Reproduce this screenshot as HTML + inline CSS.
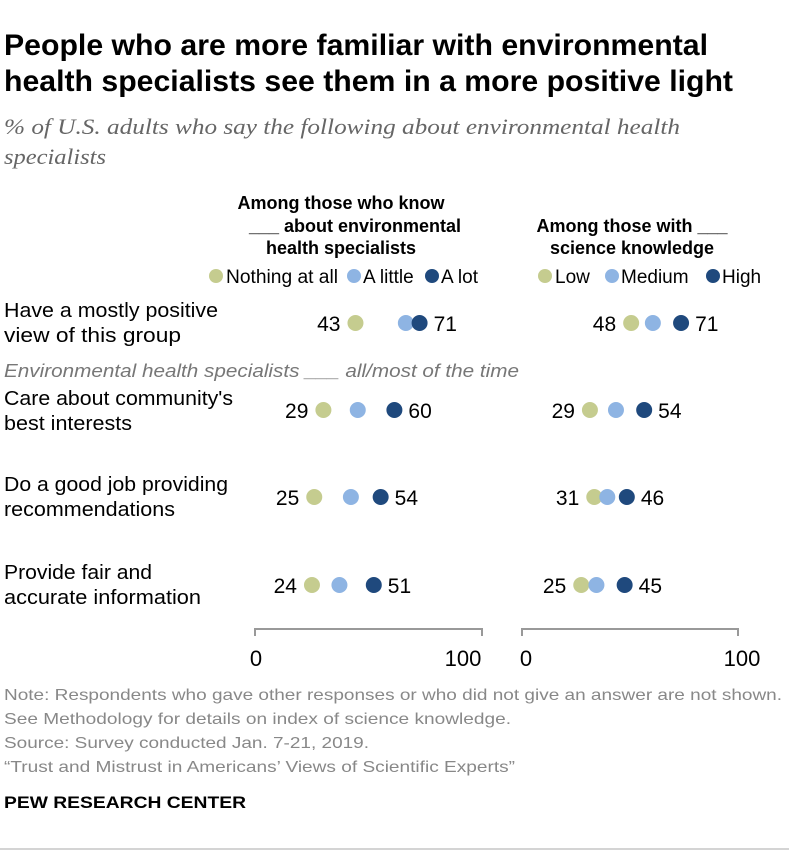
<!DOCTYPE html>
<html><head><meta charset="utf-8"><style>
body{margin:0;background:#fff;width:789px;height:853px;overflow:hidden;font-family:"Liberation Sans",sans-serif;}
</style></head><body>
<svg id="c" width="789" height="853" xmlns="http://www.w3.org/2000/svg" font-family="Liberation Sans, sans-serif">
<text x="4" y="55" font-size="30" font-weight="bold" fill="#000" textLength="704" lengthAdjust="spacingAndGlyphs">People who are more familiar with environmental</text>
<text x="4" y="91" font-size="30" font-weight="bold" fill="#000" textLength="729" lengthAdjust="spacingAndGlyphs">health specialists see them in a more positive light</text>
<text x="4" y="134" font-size="22" font-style="italic" fill="#666" font-family="Liberation Serif, serif" textLength="676" lengthAdjust="spacingAndGlyphs">% of U.S. adults who say the following about environmental health</text>
<text x="4" y="164" font-size="22" font-style="italic" fill="#666" font-family="Liberation Serif, serif" textLength="102" lengthAdjust="spacingAndGlyphs">specialists</text>
<g font-size="18" font-weight="bold" text-anchor="middle">
<text x="341" y="209">Among those who know</text>
<text x="355" y="232">___ about environmental</text>
<text x="341" y="254">health specialists</text>
<text x="632" y="232">Among those with ___</text>
<text x="632" y="254">science knowledge</text>
</g>
<g font-size="19">
<circle cx="216" cy="276" r="7" fill="#c5cc8f"/><text x="226" y="283" textLength="112" lengthAdjust="spacingAndGlyphs">Nothing at all</text>
<circle cx="354" cy="276" r="7" fill="#8eb4e3"/><text x="363" y="283">A little</text>
<circle cx="432" cy="276" r="7" fill="#1f497d"/><text x="441" y="283">A lot</text>
<circle cx="545" cy="276" r="7" fill="#c5cc8f"/><text x="555" y="283">Low</text>
<circle cx="612" cy="276" r="7" fill="#8eb4e3"/><text x="621" y="283">Medium</text>
<circle cx="713" cy="276" r="7" fill="#1f497d"/><text x="722" y="283">High</text>
</g>
<g font-size="20" fill="#000">
<text x="4" y="317" textLength="214" lengthAdjust="spacingAndGlyphs">Have a mostly positive</text><text x="4" y="342" textLength="177" lengthAdjust="spacingAndGlyphs">view of this group</text>
<text x="4" y="405" textLength="229" lengthAdjust="spacingAndGlyphs">Care about community's</text><text x="4" y="430" textLength="128" lengthAdjust="spacingAndGlyphs">best interests</text>
<text x="4" y="491" textLength="224" lengthAdjust="spacingAndGlyphs">Do a good job providing</text><text x="4" y="516" textLength="171" lengthAdjust="spacingAndGlyphs">recommendations</text>
<text x="4" y="579" textLength="148" lengthAdjust="spacingAndGlyphs">Provide fair and</text><text x="4" y="604" textLength="197" lengthAdjust="spacingAndGlyphs">accurate information</text>
</g>
<text x="4" y="377" font-size="18" font-style="italic" fill="#777" textLength="515" lengthAdjust="spacingAndGlyphs">Environmental health specialists ___ all/most of the time</text>
<g id="marks"></g>
<g stroke="#999" stroke-width="2" fill="none">
<path d="M255,636V629H482V636"/><path d="M522,636V629H738V636"/>
</g>
<g font-size="22" text-anchor="middle">
<text x="256" y="666">0</text><text x="463" y="666">100</text>
<text x="526" y="666">0</text><text x="742" y="666">100</text>
</g>
<g font-size="16" fill="#888">
<text x="4" y="700" textLength="778" lengthAdjust="spacingAndGlyphs">Note: Respondents who gave other responses or who did not give an answer are not shown.</text>
<text x="4" y="724" textLength="507" lengthAdjust="spacingAndGlyphs">See Methodology for details on index of science knowledge.</text>
<text x="4" y="748" textLength="365" lengthAdjust="spacingAndGlyphs">Source: Survey conducted Jan. 7-21, 2019.</text>
<text x="4" y="772" textLength="511" lengthAdjust="spacingAndGlyphs">“Trust and Mistrust in Americans’ Views of Scientific Experts”</text>
</g>
<text x="4" y="808" font-size="17" font-weight="bold" fill="#000" textLength="242" lengthAdjust="spacingAndGlyphs">PEW RESEARCH CENTER</text>
<line x1="0" y1="849" x2="789" y2="849" stroke="#aaa" stroke-width="1"/>
</svg>
<script>
const rows=["positive-view","community-interests","good-recommendations","fair-information"];
const knowLow=[43,29,25,24];
const knowMid=[65,44,41,36];
const knowHigh=[71,60,54,51];
const sciLow=[48,29,31,25];
const sciMid=[58,41,37,32];
const sciHigh=[71,54,46,45];
const rowY=[323,410,497,585];
const NS="http://www.w3.org/2000/svg";
const g=document.getElementById('marks');
function xl(v){return 257+v*2.29;}
function xr(v){return 527+v*2.17;}
function mk(t,a){const e=document.createElementNS(NS,t);for(const k in a)e.setAttribute(k,a[k]);g.appendChild(e);return e;}
function panel(sx,lo,mi,hi){
  for(let i=0;i<rows.length;i++){
    const y=rowY[i];
    [[lo,"#c5cc8f"],[mi,"#8eb4e3"],[hi,"#1f497d"]].forEach(s=>{
      const c=mk('circle',{cx:sx(s[0][i]),cy:y,r:8,fill:s[1]});
      
      
    });
    const t1=mk('text',{x:sx(lo[i])-15,y:y+8,'font-size':21,'text-anchor':'end'});t1.textContent=lo[i];
    
    
    const t2=mk('text',{x:sx(hi[i])+14,y:y+8,'font-size':21});t2.textContent=hi[i];
    
    
  }
}
panel(xl,knowLow,knowMid,knowHigh);
panel(xr,sciLow,sciMid,sciHigh);
</script>
</body></html>
